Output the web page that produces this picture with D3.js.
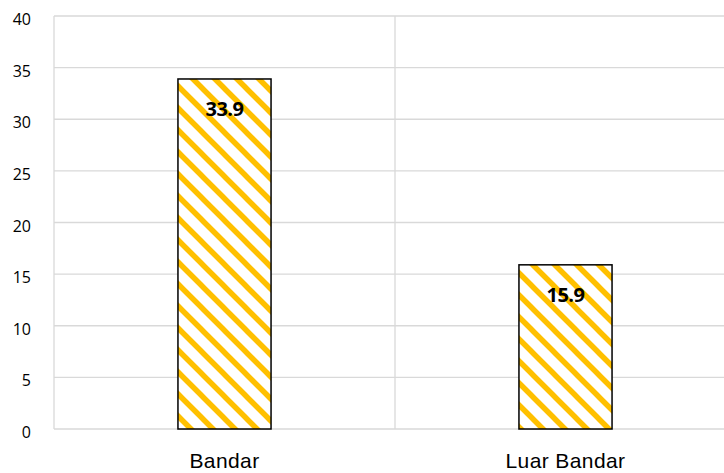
<!DOCTYPE html>
<html>
  <head>
    <script src="https://d3js.org/d3.v7.min.js"></script>
    <style>
      body { margin: 0; background: #fff; }
      .grid line { stroke: #d9d9d9; stroke-width: 1.3; }
      .ylab { font-family: "Open Sans", sans-serif; font-size: 16px; fill: #000; }
      .xlab { font-family: "Liberation Sans", Arial, sans-serif; font-size: 21px; fill: #000; letter-spacing: 0.4px; }
      .vlab { font-family: "Open Sans", sans-serif; font-size: 20px; font-weight: bold; fill: #000; letter-spacing: -0.5px; }
    </style>
  </head>
  <body>
    <svg width="724" height="473"></svg>
    <script>
      // data
      const categories = ["Bandar", "Luar Bandar"];
      const values = [33.9, 15.9];
      const yTicks = [0, 5, 10, 15, 20, 25, 30, 35, 40];

      // plot area (right edge runs a bit past the window)
      const plotLeft = 54, plotRight = 736, plotTop = 16, plotBottom = 429;

      const svg = d3.select("svg");

      // wide downward diagonal hatch
      const pat = svg.append("defs").append("pattern")
          .attr("id", "hatch")
          .attr("patternUnits", "userSpaceOnUse")
          .attr("width", 22)
          .attr("height", 22)
          .attr("x", 4)
          .attr("y", 0);
      pat.append("rect").attr("width", 22).attr("height", 22).attr("fill", "#fff");
      pat.append("path")
          .attr("d", "M-11,-11L33,33M-11,11L11,33M11,-11L33,11")
          .attr("stroke", "#ffc000")
          .attr("stroke-width", 5.5);

      const x = d3.scaleBand()
          .domain(categories)
          .range([plotLeft, plotRight])
          .padding(0);

      const y = d3.scaleLinear()
          .domain([0, 40])
          .range([plotBottom, plotTop]);

      const barW = x.bandwidth() * 0.273;

      // horizontal gridlines
      const grid = svg.append("g").attr("class", "grid");
      grid.selectAll(".h")
          .data(yTicks)
          .enter().append("line")
          .attr("x1", plotLeft)
          .attr("x2", plotRight)
          .attr("y1", d => y(d))
          .attr("y2", d => y(d));

      // vertical gridlines at category boundaries
      const bounds = categories.map(c => x(c)).concat([x(categories[categories.length - 1]) + x.bandwidth()]);
      grid.selectAll(".v")
          .data(bounds)
          .enter().append("line")
          .attr("x1", d => d)
          .attr("x2", d => d)
          .attr("y1", plotTop)
          .attr("y2", plotBottom);

      // y tick labels
      svg.selectAll(".ylab")
          .data(yTicks)
          .enter().append("text")
          .attr("class", "ylab")
          .attr("x", 31)
          .attr("y", d => y(d) + 9)
          .attr("text-anchor", "end")
          .text(d => d);

      // bars
      svg.selectAll(".bar")
          .data(values)
          .enter().append("rect")
          .attr("class", "bar")
          .attr("x", (d, i) => x(categories[i]) + x.bandwidth() / 2 - barW / 2)
          .attr("y", d => y(d))
          .attr("width", barW)
          .attr("height", d => y(0) - y(d))
          .attr("fill", "url(#hatch)")
          .attr("stroke", "#000")
          .attr("stroke-width", 1.5);

      // value labels
      svg.selectAll(".vlab")
          .data(values)
          .enter().append("text")
          .attr("class", "vlab")
          .attr("x", (d, i) => x(categories[i]) + x.bandwidth() / 2)
          .attr("y", d => y(d) + 37)
          .attr("text-anchor", "middle")
          .text(d => d.toFixed(1));

      // category labels
      svg.selectAll(".xlab")
          .data(categories)
          .enter().append("text")
          .attr("class", "xlab")
          .attr("x", d => x(d) + x.bandwidth() / 2)
          .attr("y", 468)
          .attr("text-anchor", "middle")
          .text(d => d);
    </script>
  </body>
</html>
